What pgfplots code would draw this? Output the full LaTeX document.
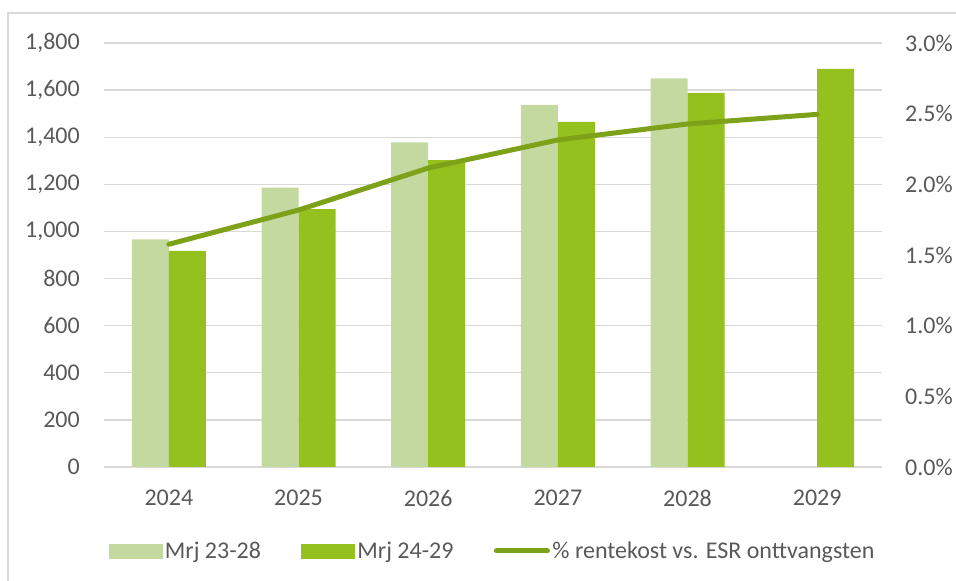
\documentclass[border=0pt]{standalone}
\usepackage{pgfplots}
\pgfplotsset{compat=1.18}
\usepackage{fontspec}
\setmainfont{Carlito}
\definecolor{lightg}{HTML}{C4D9A0}
\definecolor{darkg}{HTML}{95C11F}
\definecolor{lineg}{HTML}{7EA11A}
\definecolor{txt}{HTML}{595959}
\definecolor{gridc}{HTML}{D9D9D9}
\newcommand{\bigfont}{\fontsize{24}{28}\selectfont}
\pgfplotsset{/pgf/number format/assume math mode=true}
\begin{document}
\begin{tikzpicture}[x=1pt,y=1pt]
\useasboundingbox (0,0) rectangle (956,581);
\draw[gridc, line width=1.2pt] (8,0) -- (8,568) -- (956,568);
\begin{axis}[at={(104pt,114pt)}, anchor=south west, scale only axis,
  width=778pt, height=424pt,
  xmin=-0.5, xmax=5.5, ymin=0, ymax=1800,
  ytick={0,200,...,1800},
  xtick={0,1,2,3,4,5}, xticklabels={2024,2025,2026,2027,2028,2029},
  axis x line*=bottom, axis y line*=left,
  y axis line style={draw=none},
  x axis line style={gridc, line width=1.4pt},
  ymajorgrids, grid style={gridc, line width=1.3pt},
  major tick length=0pt,
  tick label style={font=\bigfont, text=txt, inner sep=0pt},
  yticklabel style={/pgf/number format/1000 sep={,}},
  xticklabel shift=23pt, yticklabel shift=24pt,
  ybar, bar width=37pt,
]
\addplot[fill=lightg, draw=none, bar shift=-18.5pt] coordinates {(0,966) (1,1186) (2,1378) (3,1537) (4,1650)};
\addplot[fill=darkg, draw=none, bar shift=18.5pt] coordinates {(0,917) (1,1095) (2,1303) (3,1465) (4,1588) (5,1690)};
\end{axis}
\begin{axis}[at={(104pt,114pt)}, anchor=south west, scale only axis,
  width=778pt, height=424pt,
  xmin=-0.5, xmax=5.5, ymin=0, ymax=3,
  ytick={0,0.5,...,3},
  axis y line*=right, axis x line=none,
  y axis line style={draw=none},
  major tick length=0pt,
  tick label style={font=\bigfont, text=txt, inner sep=0pt},
  yticklabel={\pgfmathprintnumber[fixed,fixed zerofill,precision=1]{\tick}\%},
  yticklabel shift=23pt,
  legend columns=3,
  legend style={at={(0.5,-0.198)}, anchor=center, draw=none, fill=none,
    font=\bigfont, text=txt, inner sep=0pt, nodes={inner sep=2.5pt},
    /tikz/every even column/.append style={column sep=38pt}},
]
\addlegendimage{legend image code/.code={\fill[lightg] (0pt,-7pt) rectangle (53pt,7pt);}}
\addlegendentry{Mrj 23-28}
\addlegendimage{legend image code/.code={\fill[darkg] (0pt,-7pt) rectangle (53pt,7pt);}}
\addlegendentry{Mrj 24-29}
\addplot[lineg, line width=5pt, line cap=round, line join=round,
  legend image code/.code={\draw[lineg, line width=5pt, line cap=round] (2pt,0pt) -- (53pt,0pt);}]
  coordinates {(0,1.576) (1,1.818) (2,2.115) (3,2.314) (4,2.427) (5,2.495)};
\addlegendentry{\% rentekost vs. ESR onttvangsten}
\end{axis}
\end{tikzpicture}
\end{document}
